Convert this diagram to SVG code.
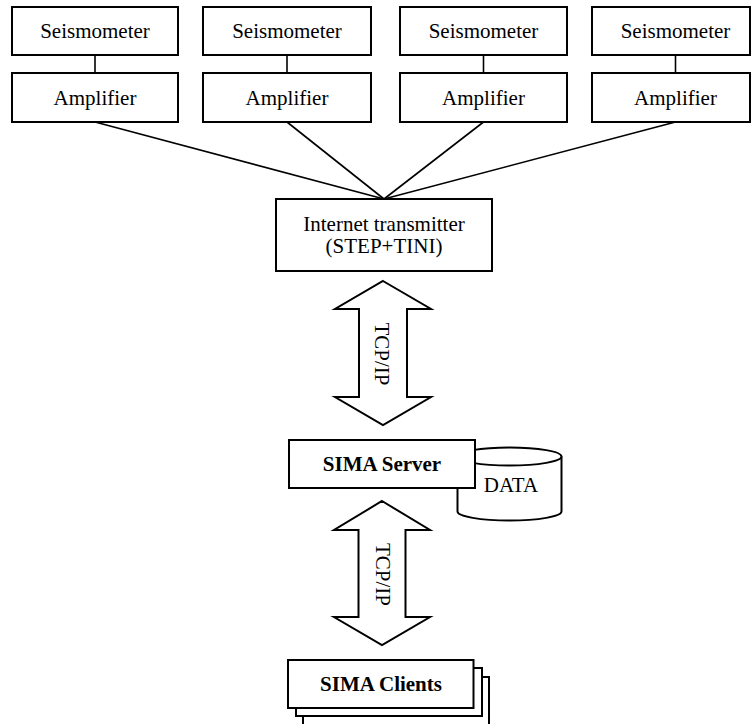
<svg xmlns="http://www.w3.org/2000/svg" width="752" height="724" viewBox="0 0 752 724">
<style>
.box{fill:#fff;stroke:#000;stroke-width:2}
.ln{stroke:#000;stroke-width:1.6;fill:none}
.t{font-family:"Liberation Serif","Times New Roman",serif;font-size:21px;fill:#000;text-anchor:middle}
.b{font-weight:bold}
.arr{fill:#fff;stroke:#000;stroke-width:2;stroke-linejoin:miter}
</style>
<rect width="752" height="724" fill="#fff"/>
<g id="connectors">
<line class="ln" x1="95" y1="55" x2="95" y2="73"/>
<line class="ln" x1="287" y1="55" x2="287" y2="73"/>
<line class="ln" x1="483.5" y1="55" x2="483.5" y2="73"/>
<line class="ln" x1="675.5" y1="55" x2="675.5" y2="73"/>
<line class="ln" x1="95" y1="122" x2="384" y2="199"/>
<line class="ln" x1="287" y1="122" x2="384" y2="199"/>
<line class="ln" x1="483.5" y1="122" x2="384" y2="199"/>
<line class="ln" x1="675.5" y1="122" x2="384" y2="199"/>
</g>
<g id="seis1"><rect class="box" x="12" y="7" width="166" height="48"/><text class="t" x="95" y="38">Seismometer</text></g>
<g id="seis2"><rect class="box" x="203" y="7" width="168" height="48"/><text class="t" x="287" y="38">Seismometer</text></g>
<g id="seis3"><rect class="box" x="400" y="7" width="167" height="48"/><text class="t" x="483.5" y="38">Seismometer</text></g>
<g id="seis4"><rect class="box" x="592" y="7" width="158" height="48"/><text class="t" x="675.5" y="38">Seismometer</text></g>
<g id="amp1"><rect class="box" x="12" y="73" width="166" height="49"/><text class="t" x="95" y="105">Amplifier</text></g>
<g id="amp2"><rect class="box" x="203" y="73" width="168" height="49"/><text class="t" x="287" y="105">Amplifier</text></g>
<g id="amp3"><rect class="box" x="400" y="73" width="167" height="49"/><text class="t" x="483.5" y="105">Amplifier</text></g>
<g id="amp4"><rect class="box" x="592" y="73" width="158" height="49"/><text class="t" x="675.5" y="105">Amplifier</text></g>
<g id="transmitter"><rect class="box" x="276" y="199" width="216" height="72"/><text class="t" x="384" y="230.5">Internet transmitter</text><text class="t" x="384" y="252.5">(STEP+TINI)</text></g>
<g id="tcp1"><polygon class="arr" points="383,281 431,309 407,309 407,397 431,397 383,425 335,397 359,397 359,309 335,309"/><text class="t" transform="translate(375,354) rotate(90)">TCP/IP</text></g>
<g id="data"><path class="box" d="M457.5,456.5 L457.5,511.5 A52,9 0 0 0 561.5,511.5 L561.5,456.5"/><ellipse class="box" cx="509.5" cy="456.5" rx="52" ry="9"/><text class="t" x="511" y="492">DATA</text></g>
<g id="server"><rect class="box" x="289" y="440" width="186" height="48"/><text class="t b" x="382" y="471">SIMA Server</text></g>
<g id="tcp2"><polygon class="arr" points="382,501 430,530 405.5,530 405.5,617 430,617 382,645 334,617 358.5,617 358.5,530 334,530"/><text class="t" transform="translate(375.5,574.5) rotate(90)">TCP/IP</text></g>
<g id="clients"><rect class="box" x="303" y="677" width="186" height="60"/><rect class="box" x="296" y="668" width="186" height="48"/><rect class="box" x="288" y="660" width="185.5" height="48"/><text class="t b" x="381" y="691">SIMA Clients</text></g>
</svg>
